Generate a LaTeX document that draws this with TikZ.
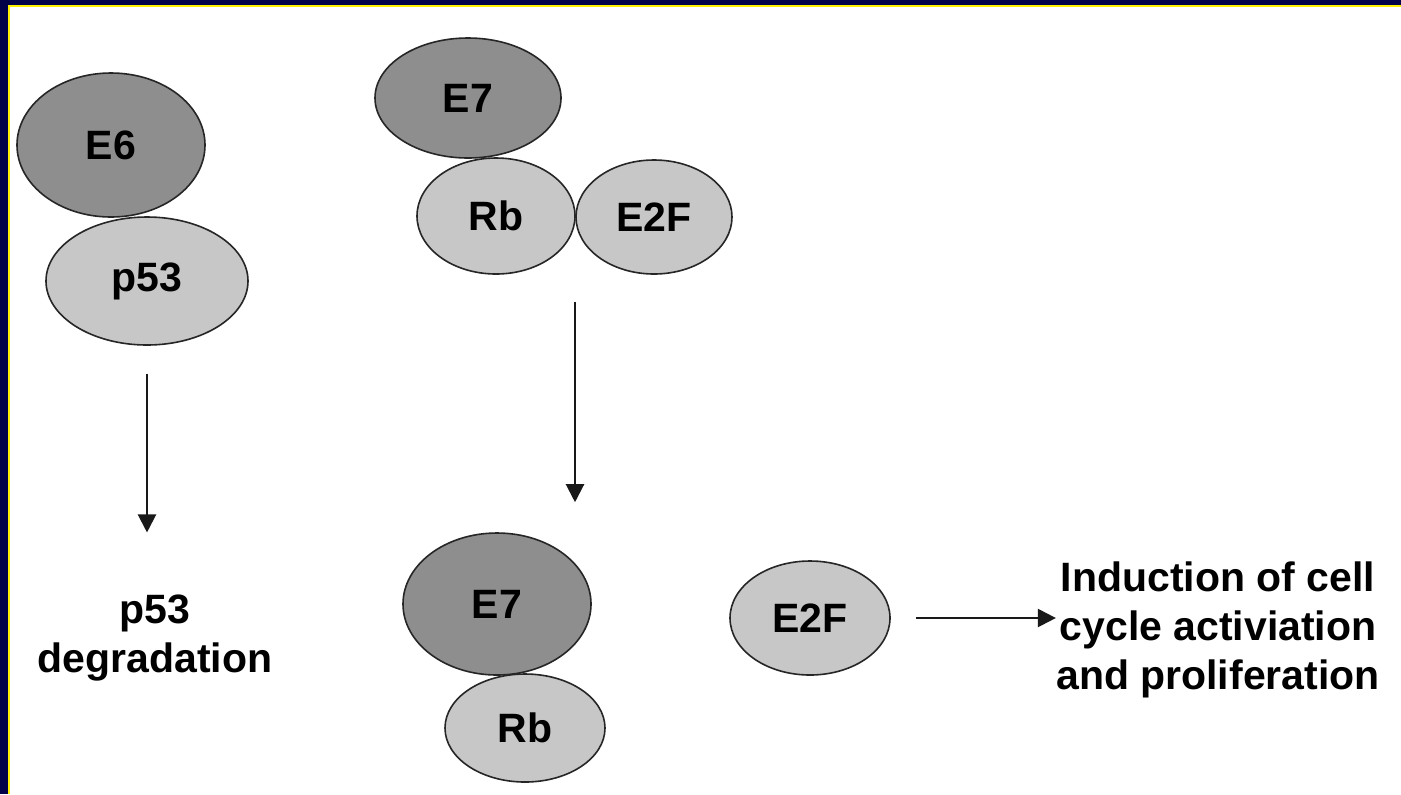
\documentclass[tikz,border=0pt]{standalone}
\usepackage{fontspec}
\setmainfont{Liberation Sans}
\usetikzlibrary{arrows.meta,shapes.geometric,calc,positioning}

\definecolor{slidenavy}{RGB}{2,2,72}
\definecolor{darkprot}{RGB}{142,142,142}
\definecolor{lightprot}{RGB}{199,199,199}

\tikzset{
  prot/.style={ellipse, draw=black!85, line width=0.8pt, inner sep=0pt,
    font=\fontsize{20.5}{25}\selectfont\bfseries},
  viral/.style={prot, fill=darkprot},
  host/.style={prot, fill=lightprot},
  outcome/.style={align=center, inner sep=0pt,
    font=\fontsize{20.5}{24.5}\selectfont\bfseries},
  flow/.style={-{Triangle[length=9pt,width=9pt]}, line width=1.1pt, draw=black!90}
}

\begin{document}
\begin{tikzpicture}[x=0.5pt, y=-0.5pt]
    \useasboundingbox (0,0) rectangle (1401,794);
    \fill[slidenavy] (0,0) rectangle (1401,794);
    \fill[yellow] (8,5) rectangle (1401,794);
    \fill[white] (10,7) rectangle (1401,794);

            % E6 / p53
            \node (e6) [viral, minimum width=94pt, minimum height=72pt] at (111,145) {E6};
            \node (p53) [host, minimum width=101pt, minimum height=64pt] at (147,281) {p53};
            \node (degr) [outcome] at (155,638) {p53\\degradation};

            % E7 / Rb / E2F complex
            \node (e7top) [viral, minimum width=93pt, minimum height=60pt] at (468,98) {E7};
            \node (rbtop) [host, minimum width=79pt, minimum height=58pt] at (496,216) {Rb};
            \node (e2ftop) [host, minimum width=78pt, minimum height=57pt] at (654,217) {E2F};
            \coordinate (split) at ($(rbtop.south)!0.5!(e2ftop.south)$);

            % after release
            \node (e7bot) [viral, minimum width=94pt, minimum height=71pt] at (497,604) {E7};
            \node (rbbot) [host, minimum width=80pt, minimum height=54pt] at (525,728) {Rb};
            \node (e2fbot) [host, minimum width=80pt, minimum height=57pt] at (810,618) {E2F};
            \node (induct) [outcome] at (1218,630) {Induction of cell\\cycle activiation\\and proliferation};

        \draw [flow, shorten <=14pt, shorten >=31pt] (p53.south) -- (p53.south |- degr.north);
        \draw [flow, shorten <=13.5pt, shorten >=15pt] (split) -- (split |- e7bot.north);
        \draw [flow, shorten <=12.5pt] (e2fbot.east) -- (e2fbot.east -| induct.west);
\end{tikzpicture}
\end{document}
